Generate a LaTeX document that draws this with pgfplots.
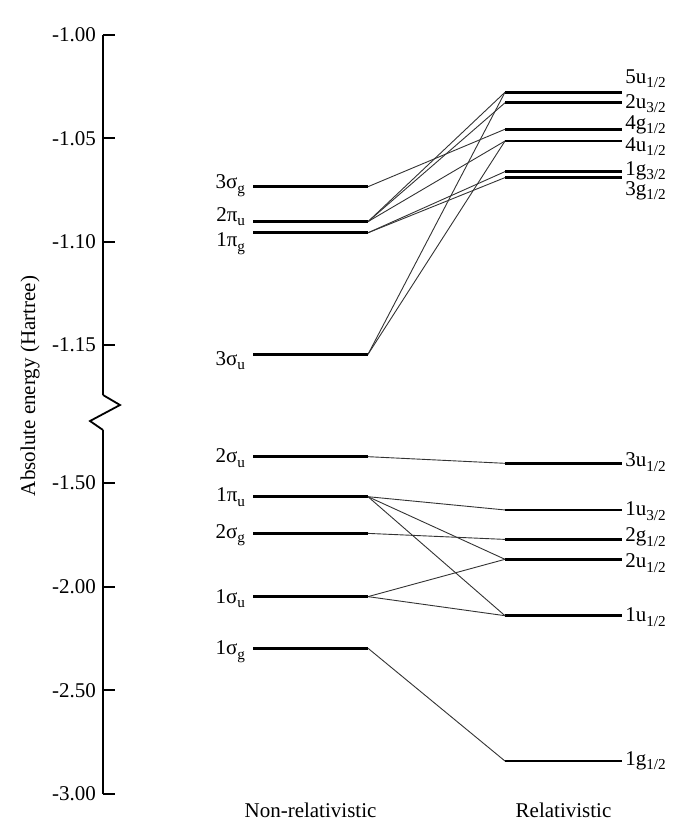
\documentclass[border=0pt]{standalone}
\usepackage{fontspec}
\setmainfont{Liberation Serif}
\usepackage{pgfplots}
\pgfplotsset{compat=1.18}
\newcommand\sub[1]{\raisebox{-0.45ex}{\fontsize{7.6}{8}\selectfont #1}}
\newcommand\mf{\fontsize{10.5}{12}\selectfont}
\pgfplotsset{
  ed/.style={scale only axis, width=259.5pt, xmin=103, xmax=622,
    axis y line*=left, y axis line style={line width=0.9pt,-},
    tick align=inside, major tick length=6pt,
    ytick style={line width=0.9pt, black},
    tick label style={font=\mf},
    clip=false},
  level/.style={black, line width=1.3pt, mark=none},
  conn/.style={black!80, line width=0.45pt, mark=none},
}
\tikzset{
  ll/.style={pos=0, anchor=base east},
  rl/.style={pos=1, anchor=base west, inner sep=1pt},
}
\begin{document}
\begin{tikzpicture}[font=\mf]
\useasboundingbox (-51.5pt,17.5pt) rectangle (295.5pt,-394.5pt);
% ---------------- upper part ----------------
\begin{axis}[ed, name=up, at={(0,0)}, anchor=north west, height=180pt,
  ymin=-1.17419, ymax=-1.00, axis x line=none,
  ytick={-1.15,-1.10,-1.05,-1.00}, yticklabels={-1.15,-1.10,-1.05,-1.00}]
% non-relativistic levels
\addplot[level] coordinates {(253,-1.0734) (368,-1.0734)} node[ll,yshift=-1pt]{3σ\sub{g}};
\addplot[level] coordinates {(253,-1.0903) (368,-1.0903)} node[ll,yshift=0pt]{2π\sub{u}};
\addplot[level] coordinates {(253,-1.0957) (368,-1.0957)} node[ll,yshift=-7pt]{1π\sub{g}};
\addplot[level] coordinates {(253,-1.1545) (368,-1.1545)} node[ll,yshift=-5.5pt]{3σ\sub{u}};
% relativistic levels
\addplot[level] coordinates {(505,-1.0277) (622,-1.0277)} node[rl,yshift=4.5pt]{5u\sub{1/2}};
\addplot[level] coordinates {(505,-1.0328) (622,-1.0328)} node[rl,yshift=-2.7pt]{2u\sub{3/2}};
\addplot[level] coordinates {(505,-1.0456) (622,-1.0456)} node[rl,yshift=0pt]{4g\sub{1/2}};
\addplot[level] coordinates {(505,-1.0513) (622,-1.0513)} node[rl,yshift=-5.3pt]{4u\sub{1/2}};
\addplot[level] coordinates {(505,-1.0661) (622,-1.0661)} node[rl,yshift=-2pt]{1g\sub{3/2}};
\addplot[level] coordinates {(505,-1.0690) (622,-1.0690)} node[rl,yshift=-8.7pt]{3g\sub{1/2}};
% correlation lines
\addplot[conn] coordinates {(368,-1.0734) (505,-1.0456)};
\addplot[conn] coordinates {(368,-1.0903) (505,-1.0277)};
\addplot[conn] coordinates {(368,-1.0903) (505,-1.0328)};
\addplot[conn] coordinates {(368,-1.0903) (505,-1.0513)};
\addplot[conn] coordinates {(368,-1.0957) (505,-1.0661)};
\addplot[conn] coordinates {(368,-1.0957) (505,-1.0690)};
\addplot[conn] coordinates {(368,-1.1545) (505,-1.0277)};
\addplot[conn] coordinates {(368,-1.1545) (505,-1.0513)};
\end{axis}
% ---------------- lower part ----------------
\begin{axis}[ed, name=lo, at={(0,-197.5pt)}, anchor=north west, height=182pt,
  ymin=-3.00, ymax=-1.24433,
  axis x line*=bottom, x axis line style={draw=none}, xtick style={draw=none},
  xtick={310.5,563.5}, xticklabels={Non-relativistic,Relativistic},
  xticklabel style={yshift=-1pt},
  ytick={-3.00,-2.50,-2.00,-1.50}, yticklabels={-3.00,-2.50,-2.00,-1.50}]
% non-relativistic levels
\addplot[level] coordinates {(253,-1.373) (368,-1.373)} node[ll,yshift=-3pt]{2σ\sub{u}};
\addplot[level] coordinates {(253,-1.566) (368,-1.566)} node[ll,yshift=-2.5pt]{1π\sub{u}};
\addplot[level] coordinates {(253,-1.743) (368,-1.743)} node[ll,yshift=-2.5pt]{2σ\sub{g}};
\addplot[level] coordinates {(253,-2.048) (368,-2.048)} node[ll,yshift=-3.3pt]{1σ\sub{u}};
\addplot[level] coordinates {(253,-2.297) (368,-2.297)} node[ll,yshift=-3.3pt]{1σ\sub{g}};
% relativistic levels
\addplot[level] coordinates {(505,-1.405) (622,-1.405)} node[rl,yshift=-1.7pt]{3u\sub{1/2}};
\addplot[level] coordinates {(505,-1.630) (622,-1.630)} node[rl,yshift=-3pt]{1u\sub{3/2}};
\addplot[level] coordinates {(505,-1.772) (622,-1.772)} node[rl,yshift=-1.2pt]{2g\sub{1/2}};
\addplot[level] coordinates {(505,-1.868) (622,-1.868)} node[rl,yshift=-4.2pt]{2u\sub{1/2}};
\addplot[level] coordinates {(505,-2.140) (622,-2.140)} node[rl,yshift=-3pt]{1u\sub{1/2}};
\addplot[level] coordinates {(505,-2.841) (622,-2.841)} node[rl,yshift=-2pt]{1g\sub{1/2}};
% correlation lines
\addplot[conn] coordinates {(368,-1.373) (505,-1.405)};
\addplot[conn] coordinates {(368,-1.566) (505,-1.630)};
\addplot[conn] coordinates {(368,-1.566) (505,-1.868)};
\addplot[conn] coordinates {(368,-1.566) (505,-2.140)};
\addplot[conn] coordinates {(368,-1.743) (505,-1.772)};
\addplot[conn] coordinates {(368,-2.048) (505,-1.868)};
\addplot[conn] coordinates {(368,-2.048) (505,-2.140)};
\addplot[conn] coordinates {(368,-2.297) (505,-2.841)};
\end{axis}
% axis break
\draw[line width=0.9pt, line join=miter] (up.south west) -- ++(8.5pt,-5pt) -- ++(-15pt,-8pt) -- (lo.north west);
\node[rotate=90] at (-36.5pt,-175.5pt) {Absolute energy (Hartree)};
\end{tikzpicture}
\end{document}
